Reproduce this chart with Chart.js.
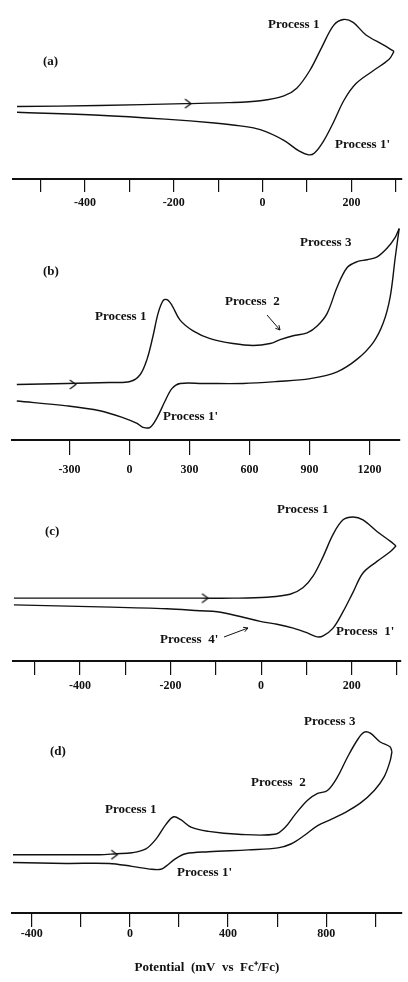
<!DOCTYPE html>
<html lang="en">
<head>
<meta charset="UTF-8">
<title>Cyclic voltammograms</title>
<script src="https://cdn.jsdelivr.net/npm/chart.js"></script>
<style>
  html, body { margin: 0; padding: 0; background: #fff; overflow: hidden; }
  body { width: 408px; height: 982px; position: relative; }
  canvas { position: absolute; left: 0; }
</style>
</head>
<body>
<canvas id="cvA"></canvas>
<canvas id="cvB"></canvas>
<canvas id="cvC"></canvas>
<canvas id="cvD"></canvas>

<script>
// potentials in mV vs Fc+/Fc, currents in arbitrary units

// (a)
const aFwdE = [-553, -368, -175, -79, -5, 48, 77, 106, 133, 160, 182, 204, 233, 271, 296];
const aFwdI = [75, 76, 78, 79, 81, 86, 94, 112, 136, 159, 165, 162, 149, 139, 132];
const aRevE = [296, 285, 249, 211, 184, 160, 137, 117, 104, 82, 48, -5, -50, -108, -219, -368, -553];
const aRevI = [132, 124, 112, 99, 82, 59, 39, 27, 25, 29, 40, 51, 55, 58, 62, 66, 69];
const aArrow = [-168, 78];
const aTicks = [-500, -400, -300, -200, -100, 0, 100, 200, 300];
const aTickLabels = ['', '-400', '', '-200', '', '0', '', '200', ''];

// (b)
const bFwdE = [-563, -313, -98, 3, 53, 88, 118, 143, 168, 188, 213, 253, 318, 403, 518, 618, 703, 753, 818, 888, 938, 988, 1038, 1088, 1138, 1188, 1238, 1288, 1328, 1348];
const bFwdI = [57, 58, 59, 60, 67, 83, 107, 130, 143, 144, 138, 123, 112, 104, 99, 97, 99, 103, 107, 110, 117, 130, 157, 177, 183, 185, 188, 197, 208, 217];
const bRevE = [1348, 1328, 1303, 1268, 1218, 1138, 1038, 903, 738, 568, 368, 253, 213, 178, 138, 103, 68, 38, -33, -148, -313, -563];
const bRevI = [217, 187, 147, 120, 100, 83, 70, 63, 60, 58, 58, 58, 53, 40, 23, 13, 13, 17, 23, 30, 35, 40];
const bArrow = [-283, 57];
const bTicks = [-300, 0, 300, 600, 900, 1200];
const bTickLabels = ['-300', '0', '300', '600', '900', '1200'];

// (c)
const cFwdE = [-546, -356, -135, -62, 13, 64, 93, 115, 137, 159, 181, 203, 225, 256, 285, 298];
const cFwdI = [65, 65, 65, 65, 66, 69, 76, 88, 108, 131, 146, 149, 146, 134, 124, 119];
const cRevE = [298, 285, 256, 225, 203, 181, 159, 137, 124, 102, 71, 35, -2, -46, -97, -135, -208, -356, -546];
const cRevI = [119, 113, 103, 91, 71, 51, 34, 26, 25, 29, 34, 38, 41, 46, 51, 52, 54, 56, 58];
const cArrow = [-124, 65];
const cTicks = [-500, -400, -300, -200, -100, 0, 100, 200, 300];
const cTickLabels = ['', '-400', '', '-200', '', '0', '', '200', ''];

// (d)
const dFwdE = [-477, -125, -56, 8, 65, 106, 146, 178, 207, 251, 320, 442, 591, 632, 672, 724, 765, 805, 846, 886, 927, 955, 980, 1020, 1060, 1068];
const dFwdI = [60, 60, 61, 62, 66, 76, 91, 99, 96, 88, 84, 81, 81, 88, 101, 116, 123, 126, 140, 160, 178, 186, 185, 176, 171, 166];
const dRevE = [1068, 1060, 1036, 996, 939, 874, 818, 765, 712, 656, 603, 482, 320, 227, 186, 146, 126, 89, 8, -85, -259, -477];
const dRevI = [166, 156, 140, 126, 113, 103, 96, 90, 80, 71, 67, 65, 63, 61, 56, 48, 45, 45, 48, 51, 51, 52];
const dArrow = [-64, 60];
const dTicks = [-400, -200, 0, 200, 400, 600, 800, 1000];
const dTickLabels = ['-400', '', '0', '', '400', '', '800', ''];

const xTitle = 'Potential  (mV  vs  Fc\u207A/Fc)';

Chart.defaults.font.family = '"Liberation Serif", "Times New Roman", serif';
Chart.defaults.font.weight = 'bold';
Chart.defaults.font.size = 12;
Chart.defaults.color = '#111';

const INK = '#111';
const FONT = 'bold 13px "Liberation Serif", serif';

// open ">" chevron used as the scan-direction marker
const chevron = document.createElement('canvas');
chevron.width = 9; chevron.height = 11;
(function () {
    const c = chevron.getContext('2d');
    c.strokeStyle = INK; c.lineWidth = 1.3;
    c.beginPath(); c.moveTo(1.5, 1); c.lineTo(7.5, 5.5); c.lineTo(1.5, 10); c.stroke();
})();

function pairs(xs, ys) {
    return xs.map((x, i) => ({ x: x, y: ys[i] }));
}

// text labels and small pointer arrows, page pixel positions
const notesPlugin = {
    id: 'notes',
    afterDraw(chart, args, opts) {
        const ctx = chart.ctx;
        const top = opts.top || 0;
        ctx.save();
        ctx.font = FONT;
        ctx.fillStyle = INK;
        ctx.textBaseline = 'middle';
        ctx.textAlign = 'left';
        (opts.texts || []).forEach(n => ctx.fillText(n.t, n.x, n.y - top));
        ctx.strokeStyle = INK;
        ctx.lineWidth = 1;
        (opts.pointers || []).forEach(p => {
            const y1 = p.y1 - top, y2 = p.y2 - top;
            const ang = Math.atan2(y2 - y1, p.x2 - p.x1);
            ctx.beginPath();
            ctx.moveTo(p.x1, y1); ctx.lineTo(p.x2, y2);
            ctx.moveTo(p.x2 - 5 * Math.cos(ang - 0.5), y2 - 5 * Math.sin(ang - 0.5));
            ctx.lineTo(p.x2, y2);
            ctx.lineTo(p.x2 - 5 * Math.cos(ang + 0.5), y2 - 5 * Math.sin(ang + 0.5));
            ctx.stroke();
        });
        ctx.restore();
    }
};

function panel(cfg) {
    const el = document.getElementById(cfg.id);
    el.width = 408;
    el.height = cfg.plotH + cfg.axisH;
    el.style.top = cfg.top + 'px';
    const lineStyle = { borderColor: INK, borderWidth: 1.4, pointRadius: 0, showLine: true, tension: 0.35, clip: false };
    return new Chart(el.getContext('2d'), {
        type: 'scatter',
        data: {
            datasets: [
                Object.assign({ label: 'forward', data: pairs(cfg.fwdE, cfg.fwdI) }, lineStyle),
                Object.assign({ label: 'reverse', data: pairs(cfg.revE, cfg.revI) }, lineStyle),
                { label: 'scan', data: [{ x: cfg.arrow[0], y: cfg.arrow[1] }], pointStyle: chevron, pointRadius: 5, clip: false }
            ]
        },
        options: {
            responsive: false,
            animation: false,
            layout: { padding: { left: cfg.padL, right: cfg.padR, top: 0, bottom: 0 } },
            plugins: {
                legend: { display: false },
                tooltip: { enabled: false },
                notes: { top: cfg.top, texts: cfg.texts, pointers: cfg.pointers || [] }
            },
            scales: {
                x: {
                    type: 'linear',
                    min: cfg.xmin,
                    max: cfg.xmax,
                    border: { display: true, color: INK, width: 2 },
                    grid: { drawOnChartArea: false, drawTicks: true, tickLength: cfg.tickLen, color: INK, lineWidth: 1.2 },
                    afterBuildTicks: s => { s.ticks = cfg.ticks.map(v => ({ value: v })); },
                    ticks: {
                        autoSkip: false,
                        maxRotation: 0,
                        padding: cfg.tickPad,
                        color: INK,
                        font: { size: 12, weight: 'bold' },
                        callback: (v, i) => cfg.tickLabels[i]
                    },
                    title: cfg.title ? { display: true, text: cfg.title, color: INK, font: { size: 13, weight: 'bold' }, padding: { top: 0, bottom: 8 } } : { display: false },
                    afterFit: s => { s.height = cfg.axisH; }
                },
                y: { type: 'linear', display: false, min: 0, max: cfg.plotH }
            }
        },
        plugins: [notesPlugin]
    });
}

panel({
    id: 'cvA', top: 0, plotH: 179, axisH: 40, padL: 13, padR: 2,
    xmin: -562, xmax: 314, ticks: aTicks, tickLabels: aTickLabels, tickLen: 13, tickPad: 4,
    fwdE: aFwdE, fwdI: aFwdI, revE: aRevE, revI: aRevI, arrow: aArrow,
    texts: [
        { t: '(a)', x: 43, y: 62 },
        { t: 'Process 1', x: 268, y: 25 },
        { t: "Process 1'", x: 335, y: 145 }
    ]
});

panel({
    id: 'cvB', top: 205, plotH: 235, axisH: 40, padL: 12, padR: 8,
    xmin: -587, xmax: 1352, ticks: bTicks, tickLabels: bTickLabels, tickLen: 15, tickPad: 8,
    fwdE: bFwdE, fwdI: bFwdI, revE: bRevE, revI: bRevI, arrow: bArrow,
    texts: [
        { t: '(b)', x: 43, y: 272 },
        { t: 'Process 1', x: 95, y: 317 },
        { t: 'Process  2', x: 225, y: 302 },
        { t: 'Process 3', x: 300, y: 243 },
        { t: "Process 1'", x: 163, y: 417 }
    ],
    pointers: [{ x1: 267, y1: 315, x2: 280, y2: 330 }]
});

panel({
    id: 'cvC', top: 480, plotH: 181, axisH: 40, padL: 13, padR: 7,
    xmin: -548, xmax: 309, ticks: cTicks, tickLabels: cTickLabels, tickLen: 14, tickPad: 4,
    fwdE: cFwdE, fwdI: cFwdI, revE: cRevE, revI: cRevI, arrow: cArrow,
    texts: [
        { t: '(c)', x: 45, y: 532 },
        { t: 'Process 1', x: 277, y: 510 },
        { t: "Process  1'", x: 336, y: 632 },
        { t: "Process  4'", x: 160, y: 640 }
    ],
    pointers: [{ x1: 224, y1: 637, x2: 248, y2: 628 }]
});

panel({
    id: 'cvD', top: 700, plotH: 213, axisH: 70, padL: 12, padR: 3,
    xmin: -481, xmax: 1109, ticks: dTicks, tickLabels: dTickLabels, tickLen: 14, tickPad: 0,
    fwdE: dFwdE, fwdI: dFwdI, revE: dRevE, revI: dRevI, arrow: dArrow,
    title: xTitle,
    texts: [
        { t: '(d)', x: 50, y: 752 },
        { t: 'Process 1', x: 105, y: 810 },
        { t: "Process 1'", x: 177, y: 873 },
        { t: 'Process  2', x: 251, y: 783 },
        { t: 'Process 3', x: 304, y: 722 }
    ]
});
</script>
</body>
</html>
